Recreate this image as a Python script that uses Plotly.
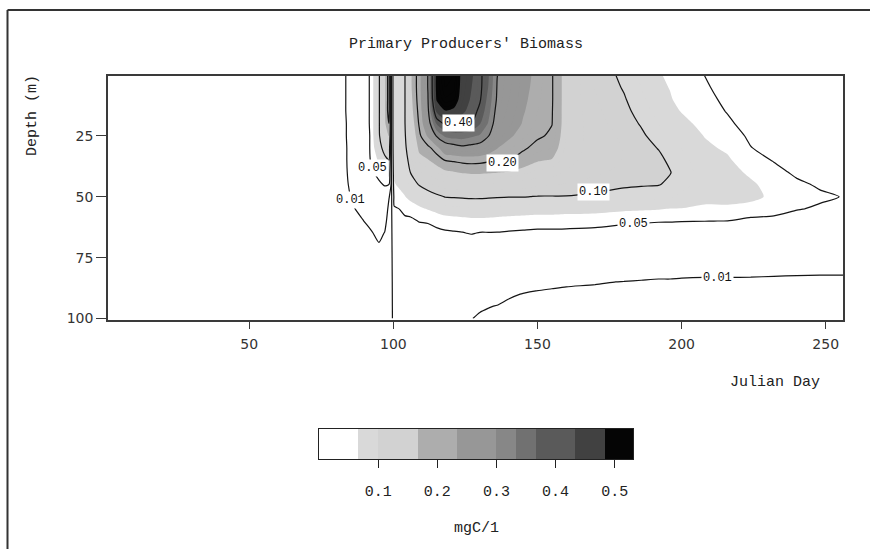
import numpy as np
import plotly.graph_objects as go

# ---------------- data ----------------
days = [1, 40, 80, 83, 86, 89, 92, 95, 97, 98.5, 99.3, 100.3, 102, 104, 106, 109, 112, 115,
        118, 121, 124, 127, 130, 133, 136, 140, 145, 150, 155, 160, 170, 180, 186, 192, 196,
        200, 208, 216, 224, 232, 240, 248, 256]
depths = [0, 5, 10, 15, 20, 25, 30, 35, 40, 45, 50, 55, 60, 65, 70, 75, 80, 85, 90, 95, 100]

# one depth profile (mgC/l at the depths above) per day column
biomass_by_day = [
    [0.003, 0.003, 0.003, 0.003, 0.003, 0.003, 0.003, 0.003, 0.003, 0.003, 0.003, 0.003, 0.003, 0.003, 0.003, 0.003, 0.003, 0.003, 0.003, 0.003, 0.003],
    [0.003, 0.003, 0.003, 0.003, 0.003, 0.003, 0.003, 0.003, 0.003, 0.003, 0.003, 0.003, 0.003, 0.003, 0.003, 0.003, 0.003, 0.003, 0.003, 0.003, 0.003],
    [0.004, 0.004, 0.004, 0.004, 0.004, 0.004, 0.004, 0.004, 0.004, 0.004, 0.004, 0.004, 0.004, 0.004, 0.004, 0.004, 0.004, 0.004, 0.004, 0.004, 0.004],
    [0.008, 0.008, 0.008, 0.008, 0.007, 0.007, 0.006, 0.006, 0.005, 0.005, 0.005, 0.004, 0.004, 0.004, 0.004, 0.004, 0.004, 0.004, 0.004, 0.004, 0.004],
    [0.02, 0.02, 0.02, 0.02, 0.02, 0.02, 0.02, 0.02, 0.02, 0.016, 0.012, 0.009, 0.007, 0.005, 0.005, 0.004, 0.004, 0.004, 0.004, 0.004, 0.004],
    [0.035, 0.035, 0.035, 0.035, 0.035, 0.035, 0.035, 0.035, 0.033, 0.028, 0.02, 0.013, 0.009, 0.006, 0.004, 0.004, 0.004, 0.004, 0.004, 0.004, 0.004],
    [0.052, 0.052, 0.052, 0.052, 0.052, 0.051, 0.051, 0.05, 0.045, 0.037, 0.028, 0.02, 0.013, 0.0085, 0.006, 0.004, 0.004, 0.004, 0.004, 0.004, 0.004],
    [0.095, 0.095, 0.095, 0.095, 0.095, 0.095, 0.085, 0.07, 0.057, 0.046, 0.036, 0.027, 0.019, 0.013, 0.009, 0.006, 0.004, 0.004, 0.004, 0.004, 0.004],
    [0.16, 0.16, 0.16, 0.16, 0.16, 0.14, 0.115, 0.09, 0.07, 0.052, 0.035, 0.022, 0.014, 0.0095, 0.007, 0.005, 0.004, 0.004, 0.004, 0.004, 0.004],
    [0.22, 0.22, 0.22, 0.22, 0.2, 0.17, 0.13, 0.1, 0.075, 0.05, 0.011, 0.005, 0.004, 0.004, 0.004, 0.004, 0.004, 0.004, 0.004, 0.004, 0.004],
    [0.004, 0.004, 0.004, 0.004, 0.004, 0.004, 0.004, 0.004, 0.004, 0.004, 0.004, 0.004, 0.004, 0.004, 0.004, 0.004, 0.004, 0.004, 0.004, 0.004, 0.004],
    [0.085, 0.085, 0.085, 0.085, 0.085, 0.083, 0.08, 0.075, 0.07, 0.065, 0.057, 0.048, 0.04, 0.034, 0.03, 0.027, 0.025, 0.023, 0.022, 0.021, 0.02],
    [0.092, 0.092, 0.092, 0.092, 0.092, 0.09, 0.088, 0.083, 0.077, 0.07, 0.06, 0.05, 0.041, 0.035, 0.03, 0.027, 0.025, 0.023, 0.021, 0.02, 0.019],
    [0.099, 0.099, 0.099, 0.099, 0.099, 0.097, 0.094, 0.089, 0.082, 0.074, 0.066, 0.055, 0.046, 0.038, 0.032, 0.028, 0.025, 0.023, 0.021, 0.019, 0.018],
    [0.16, 0.16, 0.155, 0.15, 0.14, 0.13, 0.12, 0.11, 0.101, 0.088, 0.072, 0.058, 0.046, 0.038, 0.032, 0.028, 0.025, 0.022, 0.02, 0.018, 0.017],
    [0.22, 0.22, 0.218, 0.212, 0.205, 0.192, 0.175, 0.155, 0.13, 0.102, 0.08, 0.063, 0.051, 0.04, 0.033, 0.028, 0.025, 0.022, 0.02, 0.017, 0.016],
    [0.302, 0.302, 0.298, 0.29, 0.275, 0.24, 0.19, 0.165, 0.14, 0.112, 0.088, 0.068, 0.052, 0.042, 0.034, 0.029, 0.025, 0.022, 0.019, 0.017, 0.015],
    [0.5, 0.5, 0.49, 0.44, 0.37, 0.305, 0.22, 0.18, 0.15, 0.12, 0.095, 0.072, 0.056, 0.045, 0.036, 0.03, 0.026, 0.022, 0.019, 0.016, 0.014],
    [0.56, 0.55, 0.53, 0.48, 0.41, 0.34, 0.27, 0.202, 0.16, 0.125, 0.101, 0.076, 0.059, 0.047, 0.038, 0.031, 0.026, 0.022, 0.019, 0.016, 0.013],
    [0.55, 0.54, 0.52, 0.47, 0.415, 0.35, 0.28, 0.205, 0.165, 0.128, 0.102, 0.078, 0.06, 0.048, 0.038, 0.031, 0.025, 0.021, 0.017, 0.014, 0.012],
    [0.46, 0.458, 0.452, 0.44, 0.41, 0.35, 0.29, 0.21, 0.17, 0.13, 0.103, 0.079, 0.061, 0.049, 0.039, 0.031, 0.024, 0.019, 0.016, 0.013, 0.011],
    [0.44, 0.435, 0.43, 0.42, 0.402, 0.34, 0.285, 0.212, 0.172, 0.132, 0.104, 0.08, 0.062, 0.051, 0.039, 0.03, 0.023, 0.018, 0.014, 0.012, 0.0102],
    [0.41, 0.41, 0.405, 0.39, 0.37, 0.33, 0.28, 0.21, 0.172, 0.132, 0.104, 0.08, 0.062, 0.049, 0.039, 0.029, 0.022, 0.016, 0.013, 0.0108, 0.0092],
    [0.37, 0.365, 0.355, 0.345, 0.33, 0.302, 0.26, 0.205, 0.17, 0.131, 0.103, 0.079, 0.062, 0.049, 0.038, 0.028, 0.021, 0.016, 0.0125, 0.0102, 0.0088],
    [0.301, 0.298, 0.295, 0.285, 0.275, 0.26, 0.235, 0.198, 0.168, 0.13, 0.102, 0.078, 0.061, 0.049, 0.037, 0.027, 0.02, 0.015, 0.012, 0.0098, 0.0084],
    [0.275, 0.272, 0.268, 0.262, 0.255, 0.24, 0.22, 0.201, 0.165, 0.128, 0.101, 0.077, 0.06, 0.048, 0.036, 0.026, 0.019, 0.014, 0.0108, 0.0088, 0.0076],
    [0.245, 0.243, 0.24, 0.236, 0.231, 0.22, 0.205, 0.185, 0.155, 0.124, 0.101, 0.076, 0.059, 0.047, 0.035, 0.025, 0.018, 0.013, 0.0098, 0.008, 0.007],
    [0.225, 0.223, 0.22, 0.217, 0.212, 0.205, 0.19, 0.17, 0.145, 0.12, 0.099, 0.075, 0.058, 0.046, 0.034, 0.024, 0.017, 0.012, 0.0092, 0.0075, 0.0065],
    [0.203, 0.203, 0.203, 0.202, 0.201, 0.195, 0.183, 0.165, 0.142, 0.118, 0.099, 0.075, 0.058, 0.046, 0.034, 0.024, 0.016, 0.0115, 0.0088, 0.0072, 0.0062],
    [0.15, 0.15, 0.15, 0.15, 0.15, 0.148, 0.145, 0.14, 0.132, 0.115, 0.099, 0.074, 0.057, 0.046, 0.033, 0.023, 0.0155, 0.011, 0.0085, 0.007, 0.006],
    [0.115, 0.116, 0.118, 0.12, 0.122, 0.124, 0.125, 0.124, 0.12, 0.11, 0.095, 0.073, 0.056, 0.045, 0.032, 0.022, 0.015, 0.0105, 0.0082, 0.0068, 0.0058],
    [0.094, 0.098, 0.102, 0.106, 0.11, 0.114, 0.116, 0.116, 0.112, 0.104, 0.09, 0.07, 0.053, 0.043, 0.031, 0.021, 0.0145, 0.0098, 0.008, 0.0066, 0.0056],
    [0.08, 0.083, 0.087, 0.092, 0.098, 0.104, 0.108, 0.11, 0.108, 0.102, 0.089, 0.069, 0.052, 0.042, 0.03, 0.02, 0.013, 0.0095, 0.0078, 0.0064, 0.0055],
    [0.068, 0.07, 0.073, 0.077, 0.083, 0.09, 0.099, 0.105, 0.106, 0.101, 0.087, 0.068, 0.051, 0.041, 0.029, 0.02, 0.0125, 0.0092, 0.0077, 0.0063, 0.0054],
    [0.064, 0.066, 0.068, 0.071, 0.075, 0.081, 0.089, 0.096, 0.101, 0.096, 0.085, 0.066, 0.051, 0.04, 0.029, 0.019, 0.0125, 0.0092, 0.0075, 0.0062, 0.0053],
    [0.058, 0.059, 0.062, 0.066, 0.071, 0.077, 0.083, 0.088, 0.09, 0.088, 0.08, 0.066, 0.0505, 0.04, 0.028, 0.019, 0.0122, 0.009, 0.0074, 0.0061, 0.0052],
    [0.0498, 0.052, 0.055, 0.058, 0.062, 0.066, 0.07, 0.074, 0.077, 0.077, 0.073, 0.063, 0.0502, 0.04, 0.028, 0.019, 0.012, 0.0088, 0.0073, 0.006, 0.0051],
    [0.042, 0.044, 0.046, 0.049, 0.053, 0.058, 0.064, 0.069, 0.072, 0.073, 0.07, 0.065, 0.0497, 0.039, 0.028, 0.019, 0.012, 0.0088, 0.0072, 0.006, 0.0051],
    [0.035, 0.036, 0.038, 0.04, 0.043, 0.047, 0.0505, 0.056, 0.064, 0.069, 0.07, 0.062, 0.045, 0.036, 0.027, 0.018, 0.0118, 0.0088, 0.0072, 0.006, 0.005],
    [0.03, 0.031, 0.032, 0.034, 0.036, 0.04, 0.044, 0.049, 0.055, 0.061, 0.064, 0.058, 0.044, 0.035, 0.026, 0.018, 0.0115, 0.0087, 0.0071, 0.0059, 0.005],
    [0.026, 0.027, 0.028, 0.029, 0.031, 0.034, 0.037, 0.041, 0.047, 0.053, 0.056, 0.051, 0.042, 0.034, 0.025, 0.017, 0.0112, 0.0087, 0.0071, 0.0059, 0.005],
    [0.023, 0.024, 0.025, 0.026, 0.027, 0.029, 0.032, 0.036, 0.042, 0.048, 0.0525, 0.048, 0.04, 0.033, 0.025, 0.017, 0.011, 0.0087, 0.0071, 0.0059, 0.005],
    [0.021, 0.022, 0.023, 0.024, 0.025, 0.027, 0.03, 0.033, 0.038, 0.044, 0.0495, 0.046, 0.039, 0.032, 0.024, 0.017, 0.011, 0.0087, 0.0071, 0.0059, 0.005],
]

line_levels = [0.01, 0.05, 0.10, 0.20, 0.30, 0.40]

# shaded classes of the colour bar (upper bounds, mgC/l) and their greys
fill_bounds = [0.0667, 0.1, 0.1667, 0.2333, 0.3, 0.3333, 0.3667, 0.4333, 0.4833]
fill_colors = ["#ffffff", "#d9d9d9", "#d2d2d2", "#adadad", "#979797",
               "#878787", "#717171", "#5a5a5a", "#414141", "#050505"]
bar_max = 0.531
cbar_ticks = [0.1, 0.2, 0.3, 0.4, 0.5]

x_ticks = [50, 100, 150, 200, 250]
y_ticks = [25, 50, 75, 100]

label_text = ["0.40", "0.20", "0.10", "0.05", "0.01", "0.05", "0.01"]
label_day = [122.6, 138.0, 169.6, 183.3, 212.4, 92.6, 85.1]
label_depth = [19.9, 36.3, 47.9, 61.2, 83.4, 38.3, 51.3]

# ---------------- layout geometry (pixels) ----------------
W, H = 870, 549
PL, PR, PT, PB = 108, 843, 76, 459        # paper area
MAIN_BOTTOM = 320
CB_L, CB_R = 319, 633

def px2x(px):
    return (px - PL) / (PR - PL)

def px2y(py):
    return (PB - py) / (PB - PT)

MONO = "Liberation Mono, Courier New, monospace"
SANS = "DejaVu Sans, Verdana, sans-serif"

z = np.array(biomass_by_day).T

# fill trace: uniform 1/60 bands, coloured through a stepped scale
step = 1.0 / 60
c_start, c_end = step, 33 * step
nc = int(np.floor((c_end + step / 1e6 - c_start) / step)) + 1
lo = c_start - step / 2
span = nc * step
edges = [0.0] + [(b - lo) / span for b in fill_bounds] + [1.0]
fill_scale = []
for i, col in enumerate(fill_colors):
    fill_scale.append([edges[i], col])
    fill_scale.append([edges[i + 1], col])

fig = go.Figure()
fig.add_trace(go.Contour(
    x=days, y=depths, z=z, autocontour=False,
    contours=dict(start=c_start, end=c_end, size=step, coloring="fill", showlines=False),
    colorscale=fill_scale, showscale=False, line=dict(width=0, smoothing=0.7),
    hoverinfo="skip"))

for lv in line_levels:
    fig.add_trace(go.Contour(
        x=days, y=depths, z=z, autocontour=False,
        contours=dict(start=lv, end=lv, size=1, coloring="none"),
        line=dict(color="#151515", width=1.2, smoothing=0.7),
        showscale=False, hoverinfo="skip"))

# colour bar drawn as its own small heatmap axis
bar_edges = [0.0] + fill_bounds + [bar_max]
idx_scale = []
for i, col in enumerate(fill_colors):
    idx_scale.append([i / len(fill_colors), col])
    idx_scale.append([(i + 1) / len(fill_colors), col])
fig.add_trace(go.Heatmap(
    x=bar_edges, y=[0, 1], z=[list(range(len(fill_colors)))],
    colorscale=idx_scale, zmin=-0.5, zmax=len(fill_colors) - 0.5,
    showscale=False, xaxis="x2", yaxis="y2", hoverinfo="skip"))

axis_line = dict(showline=True, mirror=True, linecolor="#3a3a3a", linewidth=1.5,
                 ticks="outside", tickcolor="#3a3a3a", showgrid=False, zeroline=False)

fig.update_layout(
    width=W, height=H,
    margin=dict(l=PL, r=W - PR, t=PT, b=H - PB, pad=0),
    paper_bgcolor="white", plot_bgcolor="white",
    showlegend=False,
    xaxis=dict(domain=[0, 1], range=[1, 256], tickvals=x_ticks, ticklen=7,
               tickfont=dict(family=SANS, size=14, color="#333"), ticklabelstandoff=3,
               anchor="y", **axis_line),
    yaxis=dict(domain=[px2y(MAIN_BOTTOM), 1], range=[100.6, 0.5], tickvals=y_ticks,
               ticklen=10, tickfont=dict(family=SANS, size=14, color="#333"),
               anchor="x", **axis_line),
    xaxis2=dict(domain=[px2x(CB_L), px2x(CB_R)], range=[0, bar_max], tickvals=cbar_ticks,
                ticktext=[f"{t:.1f}" for t in cbar_ticks], ticks="outside", ticklen=8,
                tickcolor="#222", tickfont=dict(family=MONO, size=15, color="#222"),
                ticklabelstandoff=10,
                showline=True, mirror=True, linecolor="#222", linewidth=1.2,
                showgrid=False, zeroline=False, anchor="y2"),
    yaxis2=dict(domain=[0, 30 / (PB - PT)], range=[0, 1], showticklabels=False,
                ticks="", showline=True, mirror=True, linecolor="#222", linewidth=1.2,
                showgrid=False, zeroline=False, anchor="x2"),
)

ann = [
    dict(text="Primary Producers' Biomass", x=px2x(466), y=px2y(44), font=dict(family=MONO, size=15, color="#222")),
    dict(text="Depth (m)", x=px2x(33), y=px2y(116), textangle=-90, font=dict(family=MONO, size=15, color="#222")),
    dict(text="Julian Day", x=px2x(775), y=px2y(382), font=dict(family=MONO, size=15, color="#222")),
    dict(text="mgC/1", x=px2x(476), y=px2y(528), font=dict(family=MONO, size=15, color="#222")),
]
for a in ann:
    a.update(xref="paper", yref="paper", showarrow=False, xanchor="center", yanchor="middle")
    fig.add_annotation(**a)

for t, dx, dy in zip(label_text, label_day, label_depth):
    fig.add_annotation(text=t, x=dx, y=dy, xref="x", yref="y", showarrow=False,
                       bgcolor="white", borderpad=1,
                       font=dict(family=MONO, size=12, color="#111"))

# outer frame of the figure (left and top edges visible)
frame = dict(type="line", xref="paper", yref="paper", line=dict(color="#333", width=2))
fig.add_shape(x0=px2x(7.5), x1=px2x(7.5), y0=px2y(10), y1=px2y(H + 5), **frame)
fig.add_shape(x0=px2x(7.5), x1=px2x(W + 5), y0=px2y(10), y1=px2y(10), **frame)

fig.write_html("out.html")
